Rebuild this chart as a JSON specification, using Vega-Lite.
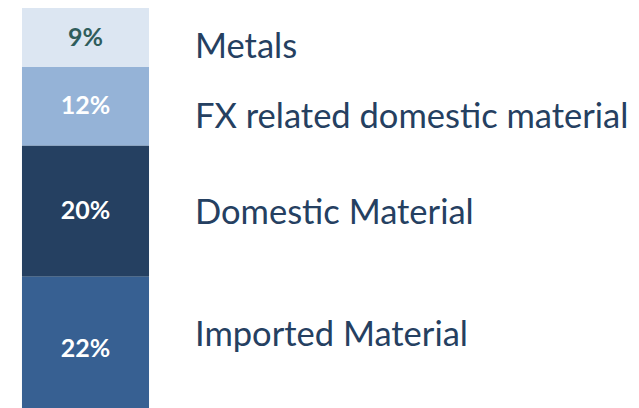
{
  "$schema": "https://vega.github.io/schema/vega-lite/v6.json",
  "width": 171,
  "height": 413,
  "autosize": {"type": "none"},
  "padding": {"top": 8, "left": 0, "right": 468, "bottom": 0},
  "background": "white",
  "config": {"view": {"stroke": null}},
  "data": {
    "values": [
      {"bar": "Cost", "category": "Metals", "share": 0.09},
      {"bar": "Cost", "category": "FX related domestic material", "share": 0.12},
      {"bar": "Cost", "category": "Domestic Material", "share": 0.20},
      {"bar": "Cost", "category": "Imported Material", "share": 0.22}
    ]
  },
  "transform": [
    {"stack": "share", "groupby": ["bar"], "sort": [{"field": "share", "order": "descending"}], "as": ["s0", "s1"]},
    {"calculate": "(datum.s0 + datum.s1) / 2", "as": "mid"}
  ],
  "encoding": {
    "x": {"field": "bar", "type": "nominal", "axis": null, "scale": {"paddingInner": 0, "paddingOuter": 0.173}},
    "y": {"field": "mid", "type": "quantitative", "axis": null, "scale": {"domain": [0, 0.63], "nice": false, "zero": false}}
  },
  "layer": [
    {
      "mark": {"type": "bar"},
      "encoding": {
        "y": {"field": "s0", "type": "quantitative"},
        "y2": {"field": "s1"},
        "color": {
          "field": "category", "type": "nominal", "legend": null,
          "scale": {
            "domain": ["Metals", "FX related domestic material", "Domestic Material", "Imported Material"],
            "range": ["#dce6f2", "#95b3d7", "#254061", "#376092"]
          }
        }
      }
    },
    {
      "mark": {"type": "text", "font": "Lato", "fontWeight": "bold", "fontSize": 25, "baseline": "middle", "align": "center"},
      "encoding": {
        "text": {"field": "share", "type": "quantitative", "format": ".0%"},
        "color": {"condition": {"test": "datum.category === 'Metals'", "value": "#2f5d5c"}, "value": "#ffffff"}
      }
    },
    {
      "transform": [{"filter": "datum.category === 'Metals'"}],
      "mark": {"type": "text", "font": "Lato", "fontSize": 34.5, "baseline": "alphabetic", "align": "left", "dx": 109.5, "dy": 20, "color": "#254061"},
      "encoding": {"text": {"field": "category", "type": "nominal"}}
    },
    {
      "transform": [{"filter": "datum.category === 'FX related domestic material'"}],
      "mark": {"type": "text", "font": "Lato", "fontSize": 34.5, "baseline": "alphabetic", "align": "left", "dx": 109.5, "dy": 21.5, "color": "#254061"},
      "encoding": {"text": {"field": "category", "type": "nominal"}}
    },
    {
      "transform": [{"filter": "datum.category === 'Domestic Material'"}],
      "mark": {"type": "text", "font": "Lato", "fontSize": 34.5, "baseline": "alphabetic", "align": "left", "dx": 109.5, "dy": 12.5, "color": "#254061"},
      "encoding": {"text": {"field": "category", "type": "nominal"}}
    },
    {
      "transform": [{"filter": "datum.category === 'Imported Material'"}],
      "mark": {"type": "text", "font": "Lato", "fontSize": 34.5, "baseline": "alphabetic", "align": "left", "dx": 109.5, "dy": -3, "color": "#254061"},
      "encoding": {"text": {"field": "category", "type": "nominal"}}
    }
  ]
}
